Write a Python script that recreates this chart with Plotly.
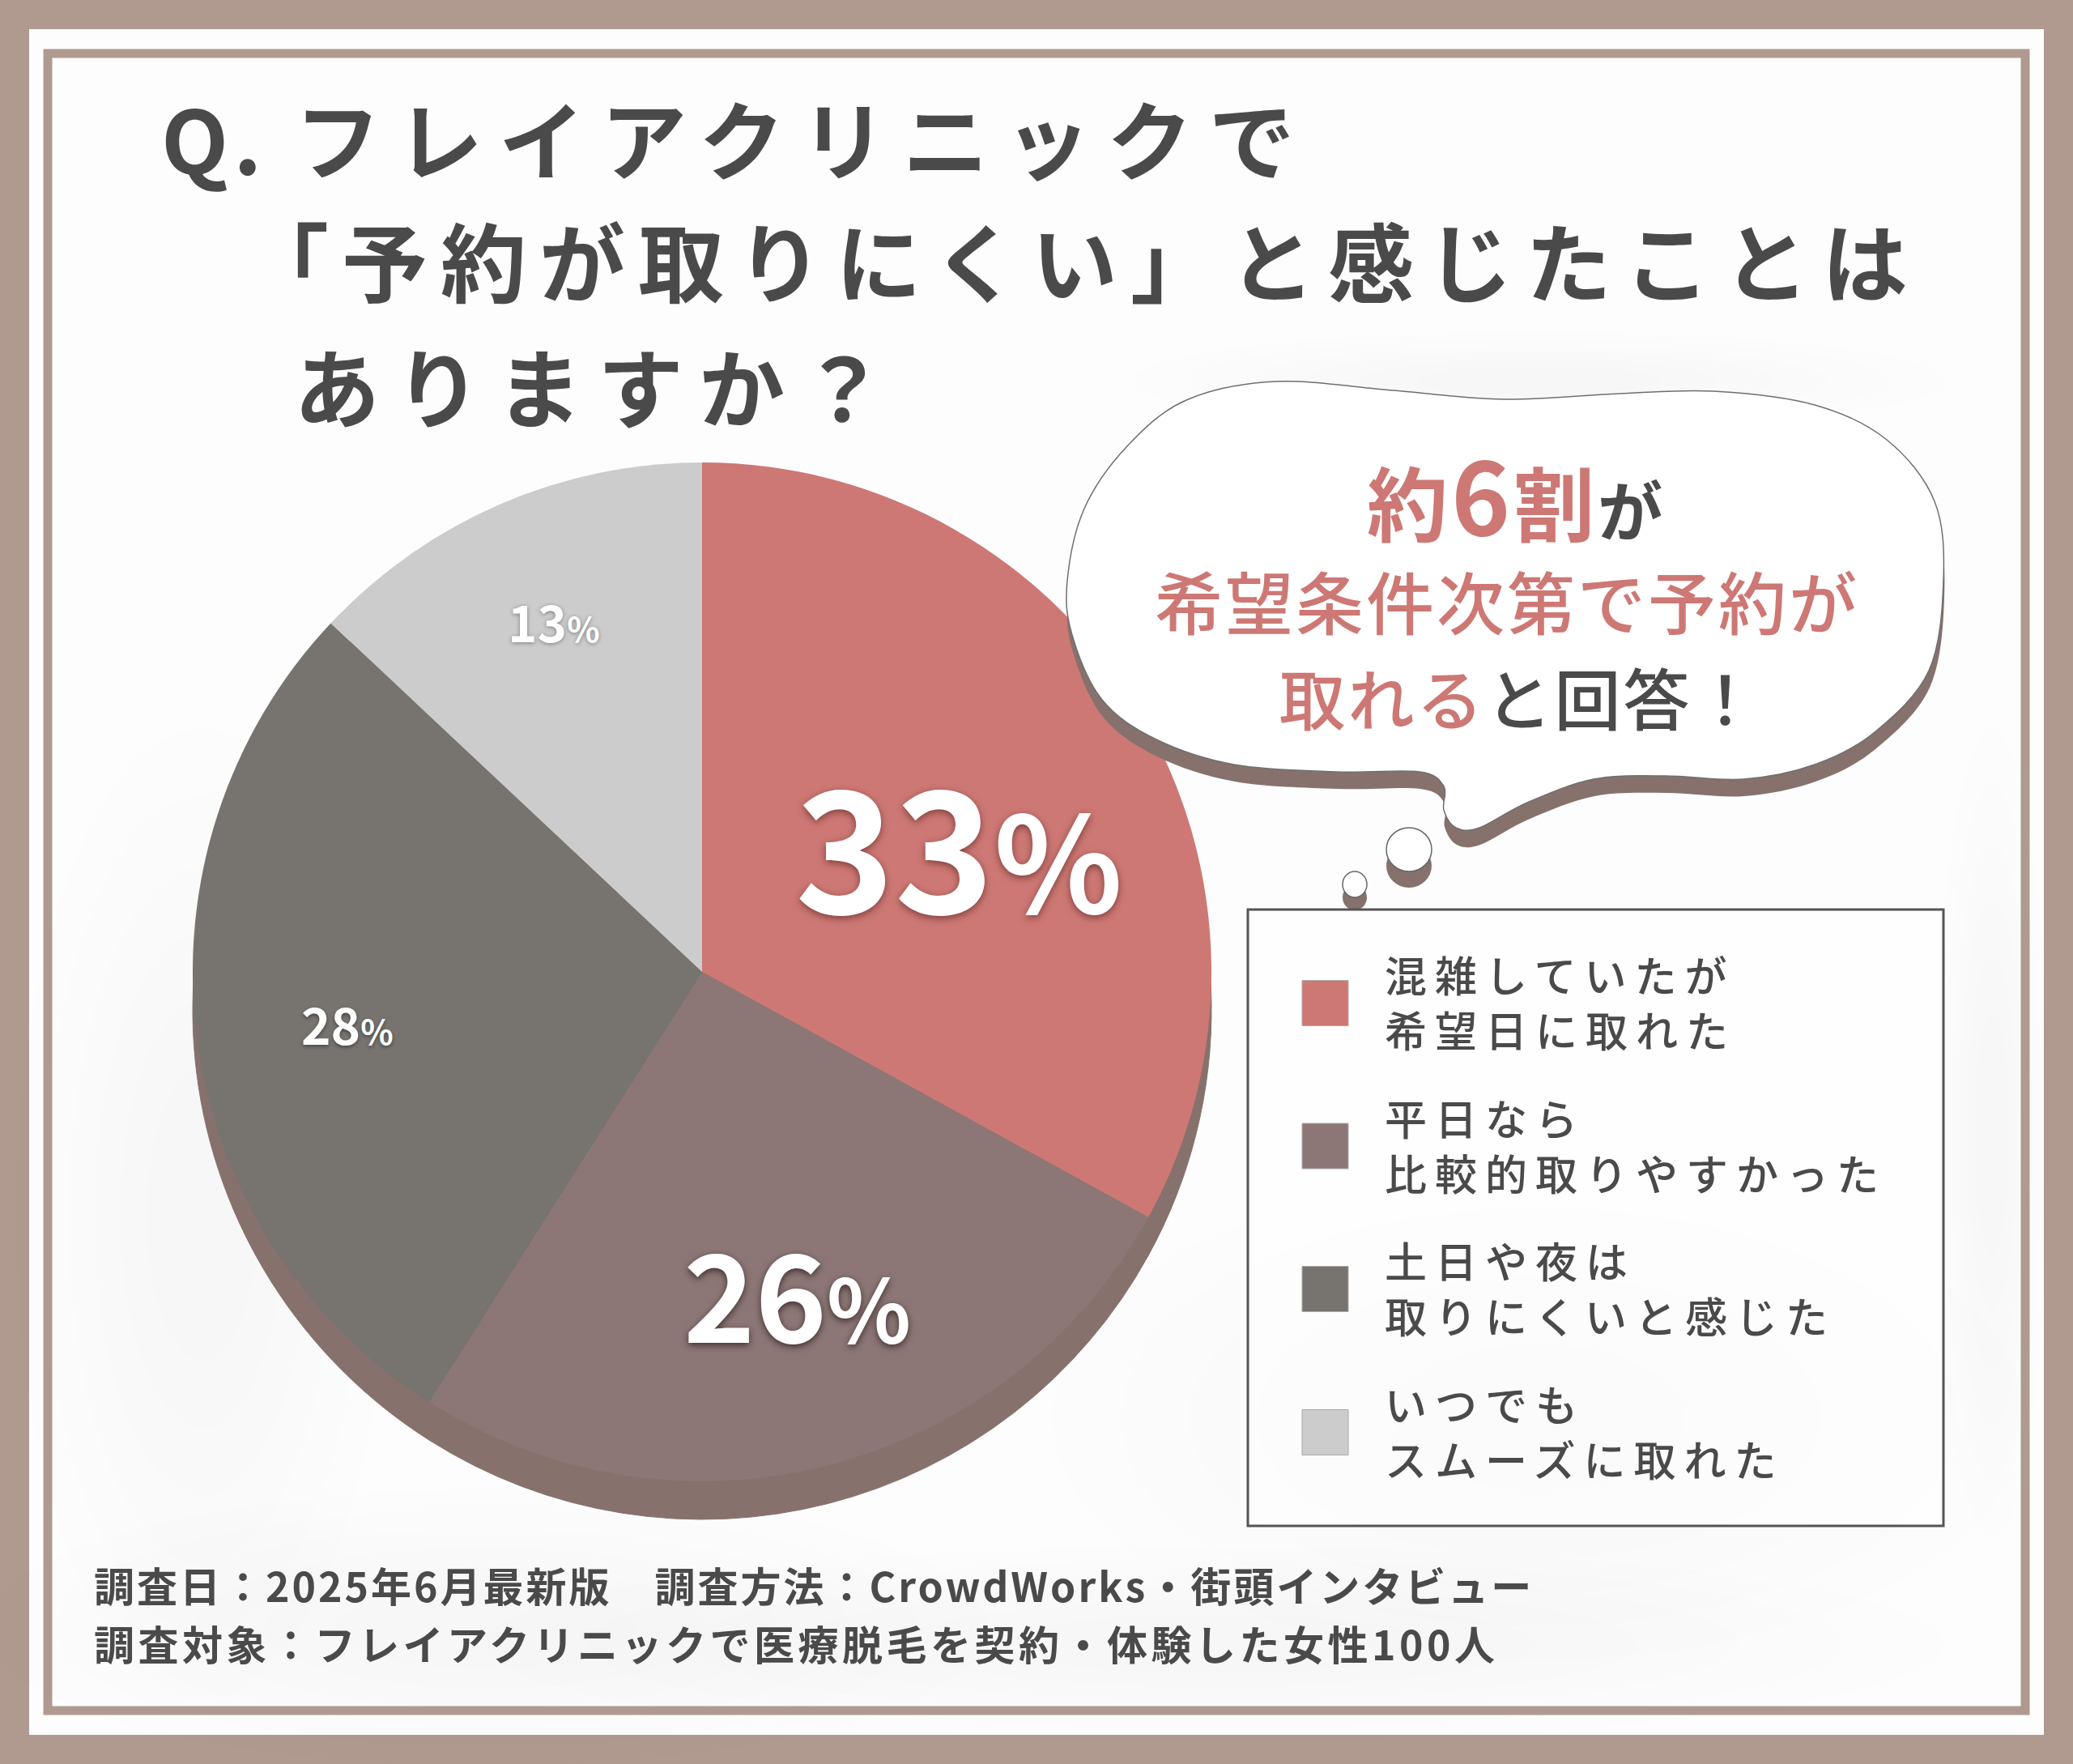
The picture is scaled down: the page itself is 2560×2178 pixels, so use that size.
import plotly.graph_objects as go

W, H = 2560, 2178
FONT = "Noto Sans CJK JP"

# ---- data ----
categories = ["混雑していたが<br>希望日に取れた", "平日なら<br>比較的取りやすかった",
              "土日や夜は<br>取りにくいと感じた", "いつでも<br>スムーズに取れた"]
values = [33, 26, 28, 13]
colors = ["#CD7874", "#8C7776", "#77736F", "#CCCCCC"]
title_q = "Q."
title_lines = ["フレイアクリニックで", "「予約が取りにくい」と感じたことは", "ありますか？"]
footer_lines = ["調査日：2025年6月最新版　調査方法：CrowdWorks・街頭インタビュー",
                "調査対象：フレイアクリニックで医療脱毛を契約・体験した女性100人"]

FRAME = "#B09A90"
SHADOW = "#86716D"
TEXT = "#4A4A4A"
ROSE = "#CD7874"

def X(px): return px / W
def Y(py): return 1 - py / H

def rect(x0, y0, x1, y1, fill=None, line=None, lw=0, layer="below"):
    return dict(type="rect", xref="paper", yref="paper", x0=X(x0), x1=X(x1), y0=Y(y1), y1=Y(y0),
                fillcolor=fill if fill else "rgba(0,0,0,0)",
                line=dict(color=line if line else "rgba(0,0,0,0)", width=lw), layer=layer)

def ellipse(cx, cy, rx, ry, fill, line=None, lw=0, layer="above"):
    return dict(type="circle", xref="paper", yref="paper", x0=X(cx-rx), x1=X(cx+rx), y0=Y(cy+ry), y1=Y(cy-ry),
                fillcolor=fill, line=dict(color=line if line else "rgba(0,0,0,0)", width=lw), layer=layer)

outline = [(1576,471),(1720,482),(1857,493),(2000,486),(2116,483),(2241,500),(2330,543),(2389,619),(2400,717),
           (2382,828),(2315,904),(2241,944),(2153,962),(2057,958),(1968,962),(1886,991),(1827,1022),(1798,1022),
           (1783,1000),(1783,971),(1753,953),(1650,953),(1524,944),(1428,913),(1361,864),(1324,784),(1318,717),
           (1339,628),(1391,552),(1465,494)]

def smooth_path(points, dx=0, dy=0):
    n = len(points)
    pts = [(X(p[0]+dx), Y(p[1]+dy)) for p in points]
    d = f"M{pts[0][0]:.5f},{pts[0][1]:.5f}"
    for i in range(n):
        p0, p1, p2, p3 = pts[i-1], pts[i], pts[(i+1) % n], pts[(i+2) % n]
        c1 = (p1[0]+(p2[0]-p0[0])/6, p1[1]+(p2[1]-p0[1])/6)
        c2 = (p2[0]-(p3[0]-p1[0])/6, p2[1]-(p3[1]-p1[1])/6)
        d += f" C{c1[0]:.5f},{c1[1]:.5f} {c2[0]:.5f},{c2[1]:.5f} {p2[0]:.5f},{p2[1]:.5f}"
    return d + " Z"

CX, CY, R = 867, 1200, 629
DROP = 47

fig = go.Figure()
fig.add_trace(go.Pie(values=values, labels=categories, sort=False, direction="clockwise", rotation=0,
                     marker=dict(colors=[SHADOW]*4, line=dict(color=SHADOW, width=1)),
                     textinfo="none", hoverinfo="skip", showlegend=False,
                     domain=dict(x=[X(CX-R), X(CX+R)], y=[Y(CY+DROP+R), Y(CY+DROP-R)])))
fig.add_trace(go.Pie(values=values, labels=categories, sort=False, direction="clockwise", rotation=0,
                     marker=dict(colors=colors, line=dict(width=0)),
                     textinfo="none", showlegend=False,
                     domain=dict(x=[X(CX-R), X(CX+R)], y=[Y(CY+R), Y(CY-R)])))

shapes = [rect(36, 36, 2524, 2142, fill="#FDFDFD")]
# faint grey wash of the paper background, built up from nested ellipses
for cx, cy, rx, ry in [(250, 1500, 230, 600), (600, 2010, 620, 170), (1500, 2030, 900, 120),
                       (2460, 1400, 70, 500), (1900, 1750, 600, 300), (1900, 470, 500, 60)]:
    for k in range(6):
        f = 1 - k * 0.14
        shapes.append(ellipse(cx, cy, rx*f, ry*f, "rgba(120,120,120,0.009)", layer="below"))
shapes += [
    rect(59, 66, 2501, 2112, line=FRAME, lw=11),
    dict(type="path", xref="paper", yref="paper", path=smooth_path(outline, 1, 21),
         fillcolor=SHADOW, line=dict(width=0), layer="above"),
    dict(type="path", xref="paper", yref="paper", path=smooth_path(outline),
         fillcolor="#FFFFFF", line=dict(color="#6F6F6F", width=1.5), layer="above"),
    ellipse(1740, 1069, 28, 27, SHADOW), ellipse(1740, 1049, 28, 27, "#FFFFFF", "#666666", 1.5),
    ellipse(1673, 1108, 15, 16, SHADOW), ellipse(1673, 1092, 15, 16, "#FFFFFF", "#666666", 1.5),
    rect(1541, 1123, 2400, 1884, fill="rgba(255,255,255,0.5)", line="#555555", lw=3, layer="above"),
]
swatch_y = [1238.5, 1415, 1591.5, 1768.5]
for yc, c in zip(swatch_y, colors):
    shapes.append(rect(1608, yc-28, 1665, yc+28, fill=c, line="#B0A8A8", lw=1, layer="above"))

def note(text, px, py, size, color=TEXT, anchor="left", weight=400, cls_shadow=None, align=None):
    font = dict(family=FONT, size=size, color=color, weight=weight)
    if cls_shadow:
        font["shadow"] = cls_shadow
    return dict(text=text, xref="paper", yref="paper", x=X(px), y=Y(py), showarrow=False,
                xanchor=anchor, yanchor="middle", align=align or anchor, font=font)

anns = [note(title_q, 197, 168, 108, weight=700)]
for line, px, py in zip(title_lines, [362, 298, 361], [168, 319, 474]):
    anns.append(note(line, px, py, 106, weight=700))

anns.append(note(f"<span style='color:{ROSE}'>約<span style='font-size:124px'>6</span>割</span><span style='font-size:80px'>が</span>",
                 1872, 607, 100, anchor="center", weight=700))
anns.append(note("希望条件次第で予約が", 1861, 741, 84, color=ROSE, anchor="center", weight=500))
anns.append(note(f"<span style='color:{ROSE}'>取れる</span>と回答！", 1877, 860, 82, anchor="center", weight=500))

for yc, cat in zip(swatch_y, categories):
    anns.append(note(cat, 1708, yc - 2, 52, weight=500))

for line, py in zip(footer_lines, [1956, 2028]):
    anns.append(note(line, 114, py, 50, weight=700))

# percent labels, text comes from the values
pct_x = [1184, 984, 429, 684]
pct_y = [1037, 1592, 1263, 766]
num_sizes = [208, 150, 62, 62]
pct_sizes = [165, 108, 42, 42]
shadows = ["0px 3px 10px #7E3F3C", "0px 3px 8px #3F2F2E", "0px 2px 4px #444444", "0px 1px 5px #7C7C7C"]
for v, px, py, ns, ps, sh in zip(values, pct_x, pct_y, num_sizes, pct_sizes, shadows):
    anns.append(note(f"{v}<span style='font-size:{ps}px'>%</span>", px, py, ns, color="#FFFFFF",
                     anchor="center", weight=700, cls_shadow=sh))

fig.update_layout(width=W, height=H, margin=dict(l=0, r=0, t=0, b=0), paper_bgcolor=FRAME,
                  plot_bgcolor="rgba(0,0,0,0)", shapes=shapes, annotations=anns, showlegend=False)

post = """
document.body.style.margin = '0';
document.querySelectorAll('.annotation-text').forEach(function(t){
  var n = t.textContent, fs = parseFloat(t.style.fontSize), s = 0;
  if (fs == 108) s = 6;
  if (fs == 106) s = /^フレイア/.test(n) ? 20 : (/^あり/.test(n) ? 19 : 16);
  if (fs == 100) s = 4;
  if (fs == 84 || fs == 82) s = 3;
  if (fs == 52) s = 10;
  if (fs == 50) s = /^調査日/.test(n) ? 3 : 4.5;
  if (s) t.style.letterSpacing = s + 'px';
});
"""
fig.write_html("out.html", post_script=post, config=dict(displayModeBar=False))
